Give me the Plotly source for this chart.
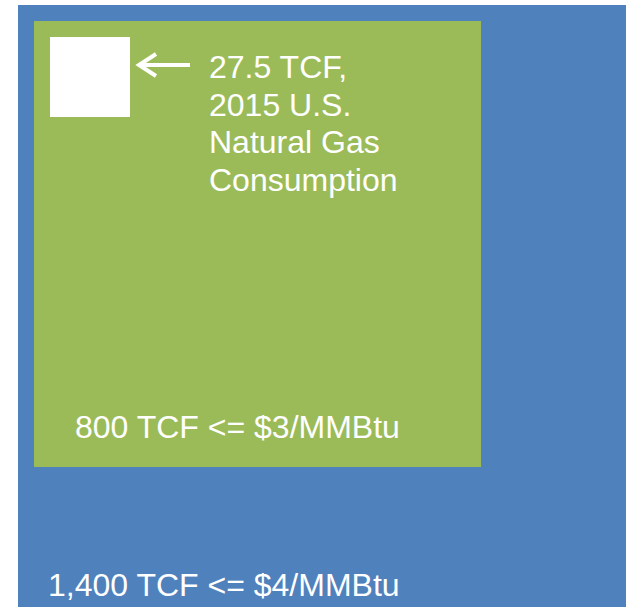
import plotly.graph_objects as go

# volumes (TCF) and their labels, outermost square first
volumes = [1400, 800, 27.5]
outer_label = "1,400 TCF <= $4/MMBtu"
middle_label = "800 TCF <= $3/MMBtu"
inner_lines = ["27.5 TCF,", "2015 U.S.", "Natural Gas", "Consumption"]
colors = ["#4F81BD", "#9BBB59", "#FFFFFF"]

# square extents in page pixels (x0, y0, x1, y1)
boxes = [
    (18, 5, 626, 607),
    (34, 21, 481, 467),
    (50, 37, 130, 117),
]

W, H = 629, 607
FONT = "Liberation Sans, Arial, sans-serif"
SIZE = 32

fig = go.Figure()

shapes = []
for (x0, y0, x1, y1), c in zip(boxes, colors):
    shapes.append(dict(type="rect", xref="x", yref="y", x0=x0, y0=y0, x1=x1, y1=y1,
                       fillcolor=c, line=dict(width=0), layer="below"))

# arrow pointing at the small square
shapes.append(dict(type="path", xref="x", yref="y",
                   path="M 190 65 L 139 65 M 156 54 L 139 65 L 156 76",
                   line=dict(color="white", width=4)))

annotations = [
    dict(x=46, y=585, text=outer_label),
    dict(x=73, y=427, text=middle_label),
]
for i, line in enumerate(inner_lines):
    annotations.append(dict(x=207, y=67 + 37.5 * i, text=line))
for a in annotations:
    a.update(xref="x", yref="y", showarrow=False, xanchor="left", yanchor="middle",
             font=dict(family=FONT, size=SIZE, color="white"))

fig.update_layout(
    width=W, height=H,
    margin=dict(l=0, r=0, t=0, b=0),
    paper_bgcolor="white", plot_bgcolor="white",
    xaxis=dict(range=[0, W], visible=False, fixedrange=True),
    yaxis=dict(range=[H, 0], visible=False, fixedrange=True),
    shapes=shapes,
    annotations=annotations,
    showlegend=False,
)

# drop the default page margin so the figure fills the window exactly
fig.write_html(
    "out.html",
    config={"displayModeBar": False},
    post_script="document.body.style.margin='0';document.body.style.overflow='hidden';",
)
